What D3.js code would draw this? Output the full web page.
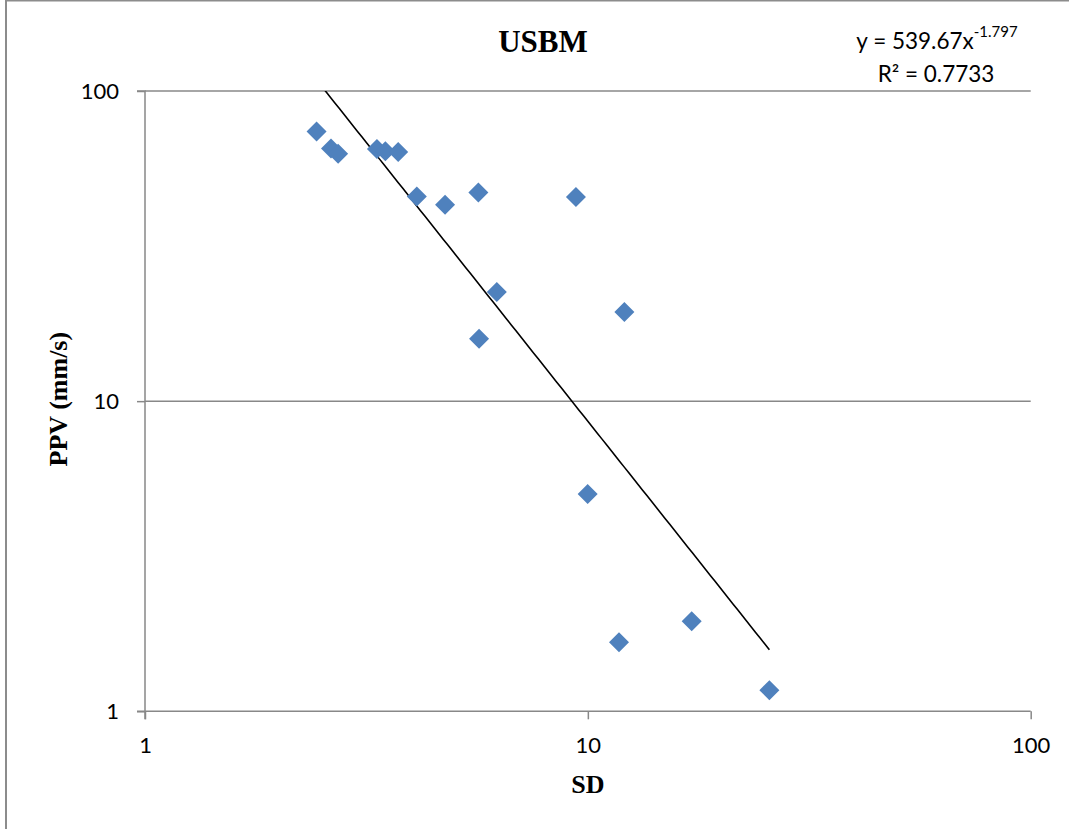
<!DOCTYPE html>
<html>
<head>
<meta charset="utf-8">
<script src="https://cdn.jsdelivr.net/npm/d3@7"></script>
<style>
  html, body { margin: 0; padding: 0; background: #fff; }
  svg { display: block; }
</style>
</head>
<body>
<div id="chart"></div>
<script>
// Scaled distance (SD) vs peak particle velocity (PPV), USBM predictor
const sdValues  = [2.44, 2.63, 2.73, 3.34, 3.49, 3.73, 4.11, 4.76, 5.66, 9.40, 6.23, 12.09, 5.68, 9.99, 11.76, 17.16, 25.70];
const ppvValues = [74.1, 65.2, 62.8, 65.0, 63.9, 63.6, 45.7, 43.0, 47.1, 45.5, 22.5, 19.4, 15.9, 5.02, 1.67, 1.95, 1.17];

// Power-law fit: PPV = K * SD^b
const fitK = 539.67;
const fitB = -1.797;
const fitR2 = 0.7733;

const xTicks = [1, 10, 100];
const yTicks = [1, 10, 100];

const chartTitle = "USBM";
const xTitle = "SD";
const yTitle = "PPV (mm/s)";

const W = 1069, H = 829;
const plot = { left: 145, right: 1030.7, top: 91, bottom: 711.3 };

const svg = d3.select("#chart").append("svg")
  .attr("width", W).attr("height", H);

svg.append("rect").attr("width", W).attr("height", H).attr("fill", "#fff");

// chart frame
svg.append("rect")
  .attr("x", 6).attr("y", 0.5)
  .attr("width", W + 20).attr("height", H + 20)
  .attr("fill", "none").attr("stroke", "#8c8c8c").attr("stroke-width", 2);

const x = d3.scaleLog().domain([1, 100]).range([plot.left, plot.right]);
const y = d3.scaleLog().domain([1, 100]).range([plot.bottom, plot.top]);

const axisColor = "#888888";
const numFont = "Lato, 'Open Sans', sans-serif";
const serif = "'Liberation Serif', 'Times New Roman', serif";

// horizontal gridlines
svg.append("g").selectAll("line")
  .data(yTicks.filter(d => d !== 1))
  .join("line")
  .attr("x1", plot.left).attr("x2", plot.right)
  .attr("y1", d => y(d)).attr("y2", d => y(d))
  .attr("stroke", axisColor).attr("stroke-width", 1.5);

// x axis
const xAxis = svg.append("g")
  .attr("transform", `translate(0,${plot.bottom})`)
  .call(d3.axisBottom(x).tickValues(xTicks).tickFormat(d3.format("d")).tickSize(8).tickPadding(18));
// y axis
const yAxis = svg.append("g")
  .attr("transform", `translate(${plot.left},0)`)
  .call(d3.axisLeft(y).tickValues(yTicks).tickFormat(d3.format("d")).tickSize(8).tickPadding(18));

[xAxis, yAxis].forEach(g => {
  g.select(".domain").attr("stroke", axisColor).attr("stroke-width", 1.5);
  g.selectAll(".tick line").attr("stroke", axisColor).attr("stroke-width", 1.5);
  g.selectAll(".tick text")
    .attr("fill", "#000")
    .style("font-family", numFont)
    .style("font-size", "22px");
});
// extend the axis lines so they meet the outer tick marks
yAxis.select(".domain").attr("d", `M-8,${y(100)}H0V${plot.bottom + 8}`);
xAxis.select(".domain").attr("d", `M${plot.left - 8},0H${plot.right}`);

// trendline over the SD range of the data, clipped to the plot
svg.append("clipPath").attr("id", "plotClip")
  .append("rect")
  .attr("x", plot.left).attr("y", plot.top)
  .attr("width", plot.right - plot.left).attr("height", plot.bottom - plot.top);

const [sdMin, sdMax] = d3.extent(sdValues);
const fitPts = d3.range(0, 101).map(i => {
  const sd = sdMin * Math.pow(sdMax / sdMin, i / 100);
  return [sd, fitK * Math.pow(sd, fitB)];
});
svg.append("path")
  .attr("clip-path", "url(#plotClip)")
  .attr("d", d3.line().x(d => x(d[0])).y(d => y(d[1]))(fitPts))
  .attr("fill", "none").attr("stroke", "#000").attr("stroke-width", 1.6);

// data markers (diamonds)
const diamond = d3.symbol().type(d3.symbolSquare).size(200);
svg.append("g").selectAll("path")
  .data(sdValues.map((s, i) => [s, ppvValues[i]]))
  .join("path")
  .attr("d", diamond)
  .attr("transform", d => `translate(${x(d[0])},${y(d[1])}) rotate(45)`)
  .attr("fill", "#4F81BD");

// titles
svg.append("text")
  .attr("x", 543).attr("y", 52)
  .attr("text-anchor", "middle")
  .style("font-family", serif).style("font-weight", "bold").style("font-size", "31px")
  .text(chartTitle);

svg.append("text")
  .attr("x", (plot.left + plot.right) / 2).attr("y", 793)
  .attr("text-anchor", "middle")
  .style("font-family", serif).style("font-weight", "bold").style("font-size", "26px")
  .text(xTitle);

svg.append("text")
  .attr("transform", `translate(67,${(plot.top + plot.bottom) / 2 - 2}) rotate(-90)`)
  .attr("text-anchor", "middle")
  .style("font-family", serif).style("font-weight", "bold").style("font-size", "26px")
  .text(yTitle);

// fit equation
const eq = svg.append("text")
  .attr("x", 937).attr("y", 49)
  .attr("text-anchor", "middle")
  .style("font-family", numFont).style("font-size", "22.5px");
eq.append("tspan").text(`y = ${fitK}x`);
eq.append("tspan").attr("dy", -12).style("font-size", "15px").text(`${fitB}`);

svg.append("text")
  .attr("x", 936).attr("y", 82)
  .attr("text-anchor", "middle")
  .style("font-family", numFont).style("font-size", "22.5px")
  .text(`R² = ${fitR2}`);
</script>
</body>
</html>
